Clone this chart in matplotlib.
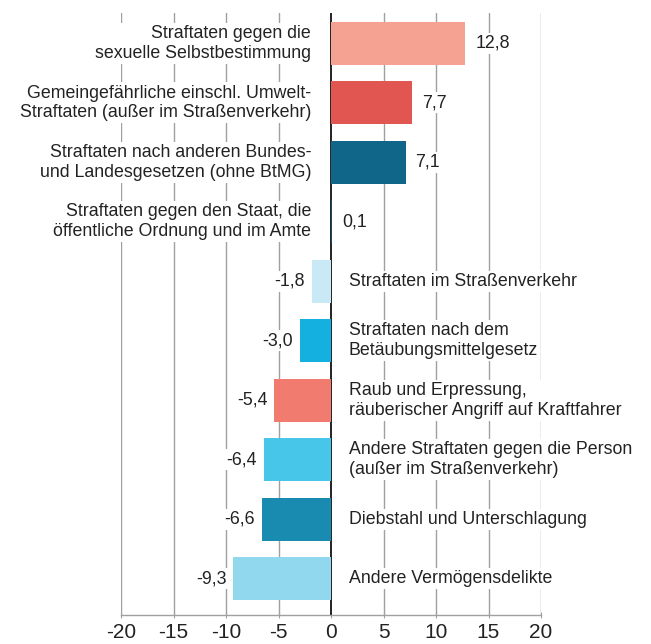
import matplotlib
matplotlib.use("Agg")
import matplotlib.pyplot as plt
from matplotlib import transforms

plt.rcParams['font.family'] = ['Liberation Sans', 'DejaVu Sans']

# categories, top to bottom
categories = [
    "Straftaten gegen die\nsexuelle Selbstbestimmung",
    "Gemeingefährliche einschl. Umwelt-\nStraftaten (außer im Straßenverkehr)",
    "Straftaten nach anderen Bundes-\nund Landesgesetzen (ohne BtMG)",
    "Straftaten gegen den Staat, die\nöffentliche Ordnung und im Amte",
    "Straftaten im Straßenverkehr",
    "Straftaten nach dem\nBetäubungsmittelgesetz",
    "Raub und Erpressung,\nräuberischer Angriff auf Kraftfahrer",
    "Andere Straftaten gegen die Person\n(außer im Straßenverkehr)",
    "Diebstahl und Unterschlagung",
    "Andere Vermögensdelikte",
]
values = [12.8, 7.7, 7.1, 0.1, -1.8, -3.0, -5.4, -6.4, -6.6, -9.3]
colors = ["#F5A292", "#E15651", "#0F6689", "#0E4F6E", "#C9E9F7",
          "#13B0E0", "#F17B6F", "#48C6E9", "#198BB1", "#91D7ED"]
xticks = [-20, -15, -10, -5, 0, 5, 10, 15, 20]

text_col = "#222222"
grid_col = "#a0a0a0"
fs = 12.8

fig = plt.figure(figsize=(6.51, 6.44), dpi=100)
ax = fig.add_axes([121 / 651, 29 / 644, 420 / 651, 602 / 644])

ypos = list(range(len(values)))
ax.barh(ypos, values, height=0.72, color=colors, zorder=3)

ax.set_xlim(-20, 20)
ax.set_ylim(9.61, -0.51)

for x in xticks:
    if x != 0:
        ax.axvline(x, color=grid_col, lw=1, zorder=0)
ax.axvline(0, color="#111111", lw=1.3, zorder=2)

ax.set_xticks(xticks)
ax.set_xticklabels([str(t) for t in xticks], fontsize=15, color=text_col)
ax.tick_params(axis='x', length=5, direction='inout', color=grid_col, pad=3)
ax.set_yticks([])
for s in ['top', 'left', 'right']:
    ax.spines[s].set_visible(False)
ax.spines['bottom'].set_color(grid_col)
ax.spines['bottom'].set_linewidth(1)

box = dict(facecolor='white', edgecolor='none', pad=1.5)

def off(dx):
    return transforms.offset_copy(ax.transData, fig=fig, x=dx, y=0, units='dots')

for y, v, lab in zip(ypos, values, categories):
    val = f"{v:.1f}".replace(".", ",")
    if v >= 0:
        ax.text(0, y, lab, transform=off(-20), ha='right', va='center',
                fontsize=fs, color=text_col, bbox=box, zorder=4)
        ax.text(v, y, val, transform=off(10), ha='left', va='center',
                fontsize=fs, color=text_col, bbox=box, zorder=4)
    else:
        ax.text(0, y, lab, transform=off(18), ha='left', va='center',
                fontsize=fs, color=text_col, bbox=box, zorder=4)
        ax.text(v, y, val, transform=off(-7), ha='right', va='center',
                fontsize=fs, color=text_col, bbox=box, zorder=4)

fig.savefig("out.png", dpi=100)
